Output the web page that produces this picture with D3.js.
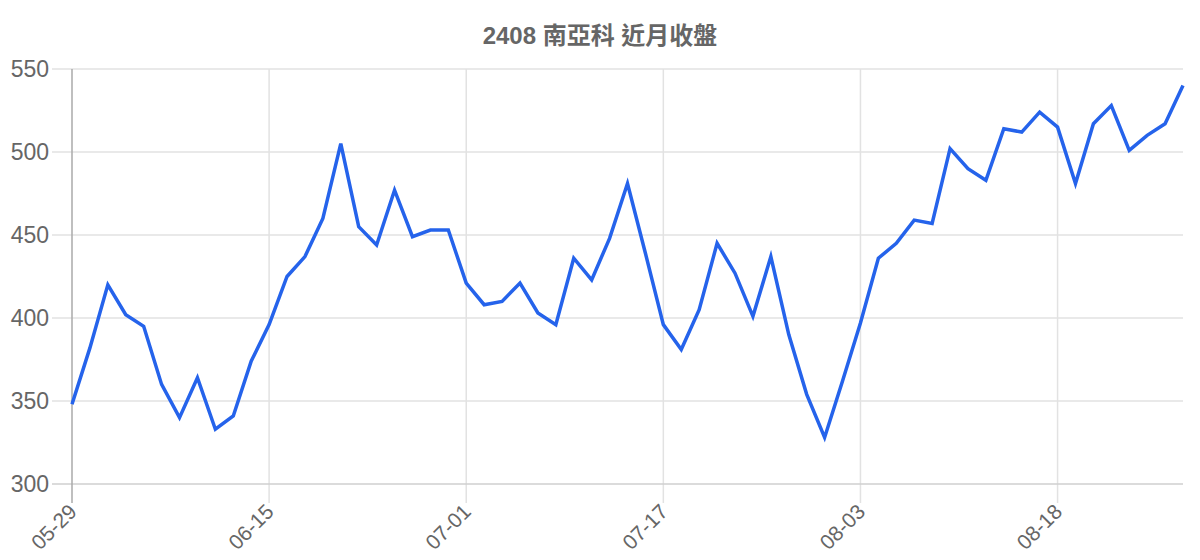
<!DOCTYPE html>
<html>
<head>
<meta charset="utf-8">
<script src="https://cdn.jsdelivr.net/npm/d3@7"></script>
<style>
  html, body { margin: 0; padding: 0; background: #fff; }
  text { font-family: "Liberation Sans", Arial, "Noto Sans CJK TC", sans-serif; fill: #666; }
</style>
</head>
<body>
<div id="chart"></div>
<script>
var width = 1200
var height = 560

const title = "2408 南亞科 近月收盤"

const dates = [
  "05-29","05-30","05-31","06-02","06-03","06-04","06-05","06-08","06-09","06-10","06-12","06-15",
  "06-16","06-17","06-18","06-19","06-22","06-23","06-24","06-25","06-26","06-29","07-01",
  "07-02","07-03","07-06","07-07","07-08","07-09","07-10","07-13","07-14","07-15","07-17",
  "07-20","07-21","07-22","07-23","07-24","07-27","07-28","07-29","07-30","07-31","08-03",
  "08-04","08-05","08-06","08-07","08-10","08-11","08-12","08-13","08-14","08-17","08-18",
  "08-19","08-20","08-21","08-24","08-25","08-26","08-27"
]

const closes = [
  348, 382, 420, 402, 395, 360, 340, 364, 333, 341, 374, 396,
  425, 437, 460, 505, 455, 444, 477, 449, 453, 453, 421,
  408, 410, 421, 403, 396, 436, 423, 448, 481, 439, 396,
  381, 405, 445, 427, 401, 437, 390, 354, 328, 362, 397,
  436, 445, 459, 457, 502, 490, 483, 514, 512, 524, 515,
  481, 517, 528, 501, 510, 517, 540
]

const xTickLabels = ["05-29","06-15","07-01","07-17","08-03","08-18"]
const yTicks = [300, 350, 400, 450, 500, 550]

var margin = { top: 69, right: 17, bottom: 76, left: 72 }

var svg = d3.select("#chart")
    .append("svg")
    .attr("width", width)
    .attr("height", height)

var x = d3.scalePoint()
    .domain(dates)
    .range([margin.left, width - margin.right])

var y = d3.scaleLinear()
    .domain([300, 550])
    .range([height - margin.bottom, margin.top])

var plotBottom = height - margin.bottom

// title
svg.append("text")
    .attr("x", 600)
    .attr("y", 44)
    .attr("text-anchor", "middle")
    .style("font-size", "24px")
    .style("font-weight", "bold")
    .text(title)

// vertical grid lines for the shown date labels
svg.append("g")
    .selectAll("line")
    .data(xTickLabels.slice(1))
    .enter()
    .append("line")
        .attr("x1", d => x(d))
        .attr("x2", d => x(d))
        .attr("y1", margin.top)
        .attr("y2", plotBottom + 19)
        .style("stroke", "#e2e2e2")
        .style("stroke-width", 1.5)

// horizontal grid lines
svg.append("g")
    .selectAll("line")
    .data(yTicks)
    .enter()
    .append("line")
        .attr("x1", margin.left - 20)
        .attr("x2", width - margin.right)
        .attr("y1", d => y(d))
        .attr("y2", d => y(d))
        .style("stroke", d => d === 300 ? "#cfcfcf" : "#e2e2e2")
        .style("stroke-width", 1.5)

// left axis line
svg.append("line")
    .attr("x1", margin.left)
    .attr("x2", margin.left)
    .attr("y1", margin.top)
    .attr("y2", plotBottom + 19)
    .style("stroke", "#aaa")
    .style("stroke-width", 1.5)

// y tick labels
svg.append("g")
    .selectAll("text")
    .data(yTicks)
    .enter()
    .append("text")
        .attr("x", margin.left - 23)
        .attr("y", d => y(d))
        .attr("dy", "0.36em")
        .attr("text-anchor", "end")
        .style("font-size", "23px")
        .text(d => d)

// x tick labels, rotated
svg.append("g")
    .selectAll("text")
    .data(xTickLabels)
    .enter()
    .append("text")
        .attr("transform", d => "translate(" + (x(d) + 6) + "," + (plotBottom + 29) + ") rotate(-45)")
        .attr("text-anchor", "end")
        .style("font-size", "21px")
        .text(d => d)

// the close price line
var line = d3.line()
    .x((d, i) => x(dates[i]))
    .y(d => y(d))

svg.append("path")
    .datum(closes)
    .attr("d", line)
    .style("fill", "none")
    .style("stroke", "#2563eb")
    .style("stroke-width", 3.5)
    .style("stroke-linejoin", "miter")
</script>
</body>
</html>
